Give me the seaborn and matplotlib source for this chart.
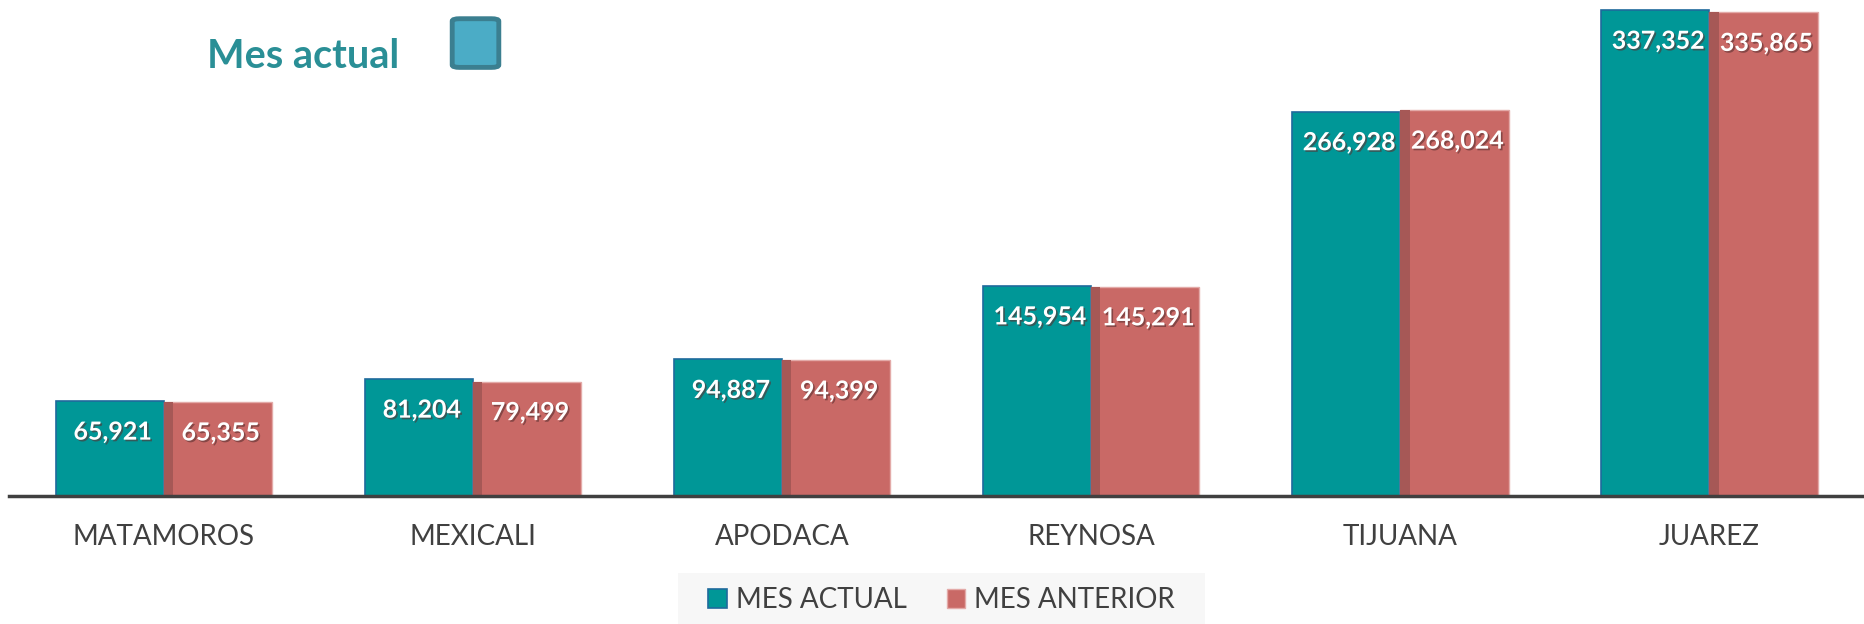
import pandas as pd
import numpy as np
import matplotlib.pyplot as plt
import matplotlib.patheffects as pe
from matplotlib.patches import Rectangle, FancyBboxPatch
import seaborn as sns

# data
ciudades = ['MATAMOROS', 'MEXICALI', 'APODACA', 'REYNOSA', 'TIJUANA', 'JUAREZ']
mes_actual = [65921, 81204, 94887, 145954, 266928, 337352]
mes_anterior = [65355, 79499, 94399, 145291, 268024, 335865]
series = ['MES ACTUAL', 'MES ANTERIOR']

TEAL = '#009797'
RED = '#c96966'

df = pd.DataFrame({
    'Ciudad': ciudades * 2,
    'Serie': [series[0]] * len(ciudades) + [series[1]] * len(ciudades),
    'Valor': mes_actual + mes_anterior,
})

sns.set_style('white')
plt.rcParams['font.family'] = ['Lato', 'DejaVu Sans']

fig = plt.figure(figsize=(18.64, 6.24), dpi=100)
ax = fig.add_axes([0.005, 0.205, 0.995, 0.795])

sns.barplot(data=df, x='Ciudad', y='Valor', hue='Serie', order=ciudades,
            hue_order=series, palette=[TEAL, RED], width=0.7, ax=ax,
            legend=False, saturation=1)

ax.set_ylim(0, 344500)
ax.set_xlim(-0.5, 5.5)
ax.set_xlabel('')
ax.set_ylabel('')
ax.set_yticks([])
for s in ['top', 'left', 'right']:
    ax.spines[s].set_visible(False)
ax.spines['bottom'].set_color('#404040')
ax.spines['bottom'].set_linewidth(2.5)
ax.tick_params(axis='x', length=0, pad=20, labelsize=20, labelcolor='#404040')

patches = ax.patches
n = len(ciudades)
for i, p in enumerate(patches[:2 * n]):
    if i < n:
        p.set_edgecolor('#1f6a9c')
        p.set_linewidth(1.2)
    else:
        p.set_edgecolor('#e3aaa8')
        p.set_linewidth(1.0)
        # dark shadow strip cast by the teal bar
        ax.add_patch(Rectangle((p.get_x(), 0), 0.03, p.get_height(),
                               facecolor='#a65856', edgecolor='none', zorder=p.get_zorder() + 0.1))
    val = p.get_height()
    ax.annotate(f'{val:,.0f}', (p.get_x() + p.get_width() / 2, val),
                xytext=(3, -31), textcoords='offset pixels',
                ha='center', va='center', color='white', fontsize=18,
                fontweight='bold', zorder=5,
                path_effects=[pe.withSimplePatchShadow(offset=(1.2, -1.2), shadow_rgbFace='#5a3030', alpha=0.6)])

# title-like label with square
fig.text(0.111, 0.91, 'Mes actual', color='#2a8f96', fontsize=28.5,
         fontweight='bold', ha='left', va='center')
fig.patches.append(FancyBboxPatch((0.2426, 0.892), 0.025, 0.078,
                                  boxstyle='round,pad=0.0,rounding_size=0.004',
                                  transform=fig.transFigure, facecolor='#4bacc6',
                                  edgecolor='#3b7f90', linewidth=3.5, figure=fig))

# legend background band
fig.patches.append(Rectangle((678 / 1864, 0), 527 / 1864, 51 / 624,
                             transform=fig.transFigure, facecolor='#f7f7f7',
                             edgecolor='none', figure=fig, zorder=0))

handles = [Rectangle((0, 0), 1, 1, facecolor=TEAL, edgecolor='#1f6a9c', linewidth=1.2),
           Rectangle((0, 0), 1, 1, facecolor=RED, edgecolor='#e3aaa8', linewidth=1.0)]
leg = fig.legend(handles, series, loc='center', bbox_to_anchor=(941.5 / 1864, 0.038),
                 ncol=2, frameon=False, fontsize=20, handlelength=0.68, handleheight=0.68,
                 handletextpad=0.32, columnspacing=1.44, borderpad=0.2,
                 labelcolor='#404040')

fig.savefig('out.png', dpi=100)
